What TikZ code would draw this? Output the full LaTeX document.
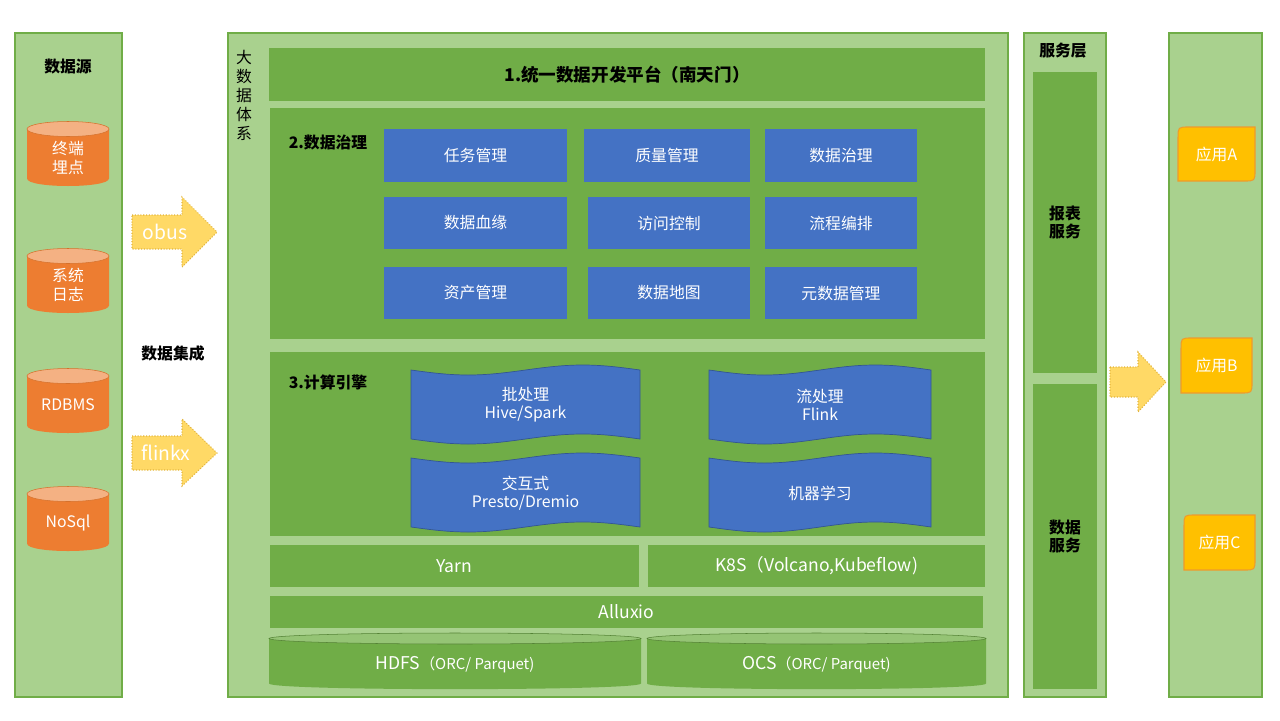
\documentclass[tikz,border=0pt]{standalone}
\usepackage{fontspec}
\setmainfont{Noto Sans CJK SC}
\usetikzlibrary{fit}
\definecolor{lightgreen}{HTML}{A9D18E}
\definecolor{midgreen}{HTML}{70AD47}
\definecolor{govblue}{HTML}{4472C4}
\definecolor{srcorange}{HTML}{ED7D31}
\definecolor{srctop}{HTML}{F4B183}
\definecolor{arrowyellow}{HTML}{FFD966}
\definecolor{arrowedge}{HTML}{E2B43A}
\definecolor{appgold}{HTML}{FFC000}
\definecolor{appedge}{HTML}{EE9A2E}

\begin{document}
\begin{tikzpicture}[x=0.02cm,y=-0.02cm,font=\fontsize{9}{11}\selectfont]
  \tikzstyle{colbox}=[fill=lightgreen,draw=midgreen,line width=0.6pt,inner sep=0pt,outer sep=0pt]
  \tikzstyle{greenbar}=[fill=midgreen,inner sep=0pt,outer sep=0pt]
  \tikzstyle{funcbox}=[fill=govblue,inner sep=0pt,outer sep=0pt]
  \tikzstyle{headline}=[font=\fontsize{9}{10.5}\selectfont\bfseries,align=center]
  \tikzstyle{whitetext}=[text=white,align=center]
  \tikzstyle{waveshape}=[fill=govblue,draw=govblue!75!black,line width=0.4pt]
  \tikzstyle{bigarrow}=[fill=arrowyellow,draw=arrowedge,densely dotted,line width=0.6pt]
  \tikzstyle{appbox}=[fill=appgold,draw=appedge,line width=0.6pt]
  \path[use as bounding box,fill=white] (0,0) rectangle (1280,720);

  % data sources
  \node[colbox,fit={(15,33) (122,697)}] (src) {};
  \node[headline] (srctitle) at (68,67) {数据源};
  \foreach \name/\y/\txt in {term/121/{终端\\埋点},syslog/248/{系统\\日志},rdbms/368/RDBMS,nosql/486/NoSql} {
    \fill[srcorange] (27,\y+8) -- (27,\y+57.5) .. controls (27,\y+67.5) and (109,\y+67.5) .. (109,\y+57.5) -- (109,\y+8) -- cycle;
    \filldraw[fill=srctop,draw=srcorange!90!black,line width=0.3pt] (68,\y+8) ellipse [x radius=41,y radius=7.5];
    \node[whitetext,font=\fontsize{9}{10.8}\selectfont] (\name) at (68,\y+37) {\txt};
  }

  % integration
  \filldraw[bigarrow] (132,215) -- (182,215) -- (182,197) -- (217,232) -- (182,267) -- (182,249) -- (132,249) -- cycle;
  \node[whitetext,font=\fontsize{11}{13}\selectfont] (obus) at (165,232) {obus};
  \node[headline] (integ) at (173,353) {数据集成};
  \filldraw[bigarrow] (132,436) -- (182,436) -- (182,419) -- (217,453) -- (182,486) -- (182,470) -- (132,470) -- cycle;
  \node[whitetext,font=\fontsize{11}{13}\selectfont] (flinkx) at (166,453) {flinkx};

  % big data system
  \node[colbox,fit={(228,33) (1008,697)}] (bigdata) {};
  \node[align=center,font=\fontsize{9}{10.8}\selectfont] (bdtitle) at (244,95) {大\\数\\据\\体\\系};
  \node[greenbar,fit={(269,48) (985,101)},label={[font=\fontsize{10}{12}\selectfont\bfseries]center:1.统一数据开发平台（南天门）}] (platform) {};

  \node[greenbar,fit={(270,108) (985,339)}] (gov) {};
  \node[headline] (govtitle) at (328,143) {2.数据治理};
  \node[funcbox,fit={(384,129) (567,182)},label={[whitetext]center:任务管理}] (task) {};
  \node[funcbox,fit={(584,129) (750,182)},label={[whitetext]center:质量管理}] (quality) {};
  \node[funcbox,fit={(765,129) (917,182)},label={[whitetext]center:数据治理}] (govern) {};
  \node[funcbox,fit={(384,197) (567,249)},label={[whitetext]center:数据血缘}] (lineage) {};
  \node[funcbox,fit={(588,197) (750,249)},label={[whitetext]center:访问控制}] (access) {};
  \node[funcbox,fit={(765,197) (917,249)},label={[whitetext]center:流程编排}] (flow) {};
  \node[funcbox,fit={(384,267) (567,319)},label={[whitetext]center:资产管理}] (asset) {};
  \node[funcbox,fit={(588,267) (750,319)},label={[whitetext]center:数据地图}] (datamap) {};
  \node[funcbox,fit={(765,267) (917,319)},label={[whitetext]center:元数据管理}] (meta) {};

  \node[greenbar,fit={(270,352) (985,536)}] (engine) {};
  \node[headline] (enginetitle) at (328,382) {3.计算引擎};
  \foreach \name/\xa/\xb/\ya/\txt in {batch/411/640/370/{批处理\\Hive/Spark},stream/709/931/370/{流处理\\Flink},query/411/640/458/{交互式\\Presto/Dremio},ml/709/931/458/{机器学习}} {
    \filldraw[waveshape] (\xa,\ya) sin ({\xa+0.25*(\xb-\xa)},\ya+5) cos ({\xa+0.5*(\xb-\xa)},\ya) sin ({\xa+0.75*(\xb-\xa)},\ya-5) cos (\xb,\ya)
      -- (\xb,\ya+69) sin ({\xa+0.75*(\xb-\xa)},\ya+64) cos ({\xa+0.5*(\xb-\xa)},\ya+69) sin ({\xa+0.25*(\xb-\xa)},\ya+74) cos (\xa,\ya+69) -- cycle;
    \node[whitetext,font=\fontsize{9}{10.2}\selectfont] (\name) at ({(\xa+\xb)/2},\ya+35) {\txt};
  }

  \node[greenbar,fit={(270,545) (639,587)},label={[whitetext,font=\fontsize{10}{12}\selectfont]center:Yarn}] (yarn) {};
  \node[greenbar,fit={(648,545) (985,587)},label={[whitetext,font=\fontsize{10}{12}\selectfont]center:K8S（Volcano,Kubeflow)}] (k8s) {};
  \node[greenbar,fit={(270,596) (983,628)},label={[whitetext,font=\fontsize{10}{12}\selectfont]center:Alluxio}] (alluxio) {};
  \foreach \name/\xa/\xb/\txt in {hdfs/269/641/HDFS,ocs/647/986/OCS} {
    \fill[midgreen] (\xa,638.5) -- (\xa,683.5) .. controls (\xa,691) and (\xb,691) .. (\xb,683.5) -- (\xb,638.5) -- cycle;
    \filldraw[fill=lightgreen!65!midgreen,draw=midgreen!75!black,line width=0.3pt] ({(\xa+\xb)/2},638.5) ellipse [x radius={(\xb-\xa)/2},y radius=5.5];
    \node[whitetext,font=\fontsize{10}{12}\selectfont] (\name) at ({(\xa+\xb)/2},665) {\txt{\fontsize{8.5}{10}\selectfont（ORC/ Parquet)}};
  }

  % service layer
  \node[colbox,fit={(1024,33) (1106,697)}] (svc) {};
  \node[headline] (svctitle) at (1063,51) {服务层};
  \node[greenbar,fit={(1033,72) (1097,373)},label={[headline]center:{报表\\服务}}] (report) {};
  \node[greenbar,fit={(1033,384) (1097,689)},label={[headline]center:{数据\\服务}}] (dataservice) {};
  \filldraw[bigarrow] (1110,367) -- (1138,367) -- (1138,352) -- (1166,382) -- (1138,412) -- (1138,397) -- (1110,397) -- cycle;

  % applications
  \node[colbox,fit={(1169,33) (1262,697)}] (apps) {};
  \foreach \name/\xa/\xb/\ya/\yb/\txt in {appa/1178/1255/127/181/应用A,appb/1181/1252/338/393/应用B,appc/1184/1255/515/570/应用C} {
    \filldraw[appbox] (\xa,\yb) -- (\xa,\ya+11) .. controls (\xa,\ya) .. (\xa+11,\ya) -- (\xb,\ya) -- (\xb,\yb-11) .. controls (\xb,\yb) .. (\xb-11,\yb) -- cycle;
    \node[whitetext] (\name) at ({(\xa+\xb)/2},{(\ya+\yb)/2}) {\txt};
  }
\end{tikzpicture}
\end{document}
